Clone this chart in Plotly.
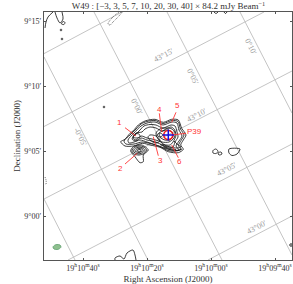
import plotly.graph_objects as go

# Map coordinates: 0..248 on both axes (map pixels)
x_tickvals = [39, 103, 167, 231]
x_ticktext = ["19<sup>h</sup>10<sup>m</sup>40<sup>s</sup>", "19<sup>h</sup>10<sup>m</sup>20<sup>s</sup>",
              "19<sup>h</sup>10<sup>m</sup>00<sup>s</sup>", "19<sup>h</sup>09<sup>m</sup>40<sup>s</sup>"]
y_tickvals = [44, 109, 174, 239]
y_ticktext = ["9°00′", "9°05′", "9°10′", "9°15′"]

grid_lines = [
    ([0, 78], [206.4, 248]), ([0, 220], [133.5, 248]), ([0, 248], [61, 189]),
    ([24, 248], [0, 116]), ([164, 248], [0, 44]),
    ([0, 31], [61, 0]), ([0, 104], [203, 0]), ([50, 178], [248, 0]),
    ([123, 248], [248, 5]), ([196, 248], [248, 147]),
]
grid_labels = [
    ("43°15′", 119, 205, -27), ("43°10′", 152, 145, -27), ("43°05′", 182, 91, -27), ("43°00′", 212, 33, -27),
    ("0°10′", 207, 214, 63), ("0°05′", 149, 184, 63), ("0°00′", 93, 154, 63), ("-0°05′", 37, 123, 63),
]

outer = [(76.7,118.3),(81,120.7),(86,126.7),(89.3,129.3),(94.3,135),(101,139),(111,140.7),(119.3,137.7),
         (127.7,140.7),(134.3,140),(137.7,131.7),(142,125),(139.3,120),(136.7,115),(139.3,110.7),(134.3,107.3),
         (124.3,108.3),(116,112.7),(106,115),(98.7,116.7),(89.3,114),(81,114),(76.7,118.3)]
level1b = [(80,119),(86,125),(92,131),(97,136),(103,138.5),(111,139.5),(119,136.5),(128,139.5),(134,138.5),(136.5,131),
           (140,125),(137,119.5),(134.5,114.5),(137,110.5),(130,108.8),(124,109.5),(116,113.5),(106,116.5),(98,118),
           (90,116),(82,116),(80,119)]
level2 = [(84,120),(90,127),(97,134),(103,137),(111,138),(119,135),(128,138),(133,137),(135,130),(138,124),
          (135,119),(132,114),(135,110),(128,110),(120,112),(112,115),(103,118),(96,120),(90,118),(85,117),(84,120)]
level3 = [(88,121),(92,126),(96,130),(100,134),(106,135.5),(112,135),(119,132),(127,135),(131,134),(133,128),
          (134,123),(131,118),(129,113),(122,113.5),(114,117),(108,119),(103,120),(97,122),(92,119),(88,121)]
level4 = [(89,122),(92,127),(98,128),(101,131),(106,133),(112,132),(118,129),(122,131),(127,133),(130,131),(132,125),
          (129,118),(126,115),(120,115.5),(117,118),(108,121),(103,122),(97,124),(92,120),(89,122)]
ring_p39a = [(112,127),(116,131),(122,132),(128,131),(131,127),(130,122),(125,118),(118,118),(114,121),(112,127)]
ring_p39b = [(115,127),(119,129),(124,130),(128,128),(129,124),(126,120),(121,120),(117,122),(115,127)]
ring_4 = [(113,125),(116,127),(119,125),(116,123),(113,125)]
lobe_3 = [(104,123),(106,125),(112,124),(116,119),(112,117),(106,120),(104,123)]
finger_a = [(118,116),(126,113),(133,112),(137,113),(133,116),(130,119)]
finger_b = [(120,113),(126,110.5),(133,109.5),(138,111)]
finger_c = [(116,115.5),(124,112),(132,110.5)]
ring_1 = [(89,123),(91,126),(95,126),(96,123),(92,122),(89,123)]
loop_2 = [(89.3,113.3),(86.7,109),(91,103.3),(96,97.3),(99.3,98.3),(99.3,105),(104.3,110),(97.7,115),(89.3,113.3)]
ring_2a = [(88,109),(90,112.5),(95,114),(100,113),(102.5,110),(100,106.5),(95,105),(90,106),(88,109)]
ring_2b = [(89.5,109),(91,111.5),(95,112.8),(99,112),(101,110),(99,107.5),(95,106.2),(91,107),(89.5,109)]
ring_2c = [(91,109),(92.5,110.8),(95,111.5),(98,111),(99.5,110),(98,108.5),(95,107.5),(92.5,108),(91,109)]
ring_2d = [(93,109.5),(95,110.5),(97,110),(96.5,108.5),(94.5,108.4),(93,109.5)]

corner_a = [(1,232),(2,238),(4,243),(9,248)]
corner_b = [(11,248),(13,242),(16,237),(19,241),(18,248)]
corner_c = [(17.5,236),(19,238.5),(21,237.5),(20,235.5),(17.5,236)]
blob_a = [(16,230),(17,231),(18,230),(17,229),(16,230)]
blob_b = [(17,221),(18,222),(19,221),(18,220),(17,221)]
blob_c = [(59,153),(60,154),(61,153),(60,152),(59,153)]
bottom_c = [(71,0),(71,2),(76,4),(80,1),(83,7),(89,10),(91,5),(92,0)]
right_a = [(169,109.5),(172,111),(174,108.5),(172,106.5),(169,107),(169,109.5)]
right_b = [(174,107),(177,108),(178,106),(175,105),(174,107)]
right_c = [(185,111),(196,111),(193,106),(188,104.5),(185,107),(185,111)]
right_d = [(246,14),(248,14),(248,16),(246,16),(246,14)]
top_a = [(170,248),(172,246.5),(174,248)]
top_b = [(180,248),(181.5,246.5),(183,248)]
solid_contours = [outer, level1b, level2, level3, level4, ring_p39a, ring_p39b, ring_4, lobe_3, finger_a, finger_b,
                  finger_c, ring_1, loop_2, ring_2a, ring_2b, ring_2c, ring_2d, corner_a, corner_b, corner_c,
                  blob_a, blob_b, blob_c, bottom_c, right_a, right_b, right_c, right_d, top_a, top_b]

dotted_a = [(64,236),(68,242),(74,247),(78,248),(74,243),(69,238),(66,235),(64,236)]
dotted_b = [(1,83),(2,80),(2,76),(1,76)]
dotted_contours = [dotted_a, dotted_b]

beam_x = [9,11,13,16,17,15,13,10,9]
beam_y = [13,15,15.5,15,13,11,10.5,11,13]

p39_x, p39_y = 124.3, 125

leaders = [
    ([81, 92], [132.3, 124]), ([81, 93.3], [96, 106.7]), ([114.3, 109.3], [104.3, 123.3]),
    ([115.3, 117.7], [146.7, 128.3]), ([132, 127.7], [147.7, 137.7]), ([134.3, 127.7], [102.3, 115]),
    ([142, 127.7], [126.7, 125]),
]
leader_labels = [("1", 75, 137.7), ("2", 76.7, 91.7), ("3", 116, 100), ("4", 115.3, 150.7),
                 ("5", 133.7, 155), ("6", 135.3, 98.3), ("P39", 150.5, 128.3)]

SERIF = "Liberation Serif, Times New Roman, serif"
RED = "#ff3333"
fig = go.Figure()

for gx, gy in grid_lines:
    fig.add_trace(go.Scatter(x=gx, y=gy, mode="lines", line=dict(color="#bdbdbd", width=0.9), hoverinfo="skip"))

for c in solid_contours:
    fig.add_trace(go.Scatter(x=[p[0] for p in c], y=[p[1] for p in c], mode="lines",
                             line=dict(color="#1a1a1a", width=0.85, shape="spline", smoothing=0.8), hoverinfo="skip"))
for c in dotted_contours:
    fig.add_trace(go.Scatter(x=[p[0] for p in c], y=[p[1] for p in c], mode="lines",
                             line=dict(color="#333333", width=0.7, dash="1px,1px", shape="spline"), hoverinfo="skip"))

fig.add_trace(go.Scatter(x=beam_x, y=beam_y, mode="lines", fill="toself", fillcolor="#8fc08f",
                         line=dict(color="#5f9f6f", width=0.8, shape="spline"), hoverinfo="skip"))

for lx, ly in leaders:
    fig.add_trace(go.Scatter(x=lx, y=ly, mode="lines", line=dict(color=RED, width=0.9), hoverinfo="skip"))

fig.add_trace(go.Scatter(x=[p39_x], y=[p39_y], mode="markers",
                         marker=dict(symbol="circle", size=9, color="rgba(0,0,0,0)", line=dict(color="#f01818", width=1.6)),
                         hoverinfo="skip"))
fig.add_trace(go.Scatter(x=[p39_x], y=[p39_y], mode="markers",
                         marker=dict(symbol="cross-thin", size=8, line=dict(color="#1010e0", width=1.5)),
                         hoverinfo="skip"))

annotations = []
for text, x, y, angle in grid_labels:
    annotations.append(dict(x=x, y=y, text=text, textangle=angle, showarrow=False,
                            font=dict(family=SERIF, size=8, color="#999999")))
for text, x, y in leader_labels:
    annotations.append(dict(x=x, y=y, text=text, showarrow=False,
                            font=dict(family="Liberation Sans, Arial, sans-serif", size=8, color=RED)))

axis_common = dict(range=[0, 248], showgrid=False, zeroline=False, showline=True, mirror="ticks",
                   linecolor="#555555", linewidth=1.2, ticks="inside", ticklen=2, tickwidth=0.6,
                   tickcolor="#555555", tickfont=dict(family=SERIF, size=8, color="#333333"))

fig.update_layout(
    width=293, height=284, showlegend=False, paper_bgcolor="white", plot_bgcolor="white",
    margin=dict(l=44, r=1, t=12, b=24),
    title=dict(text="W49 : [−3, 3, 5, 7, 10, 20, 30, 40] × 84.2 mJy Beam<sup>−1</sup>",
               x=0.575, xanchor="center", y=0.978, yanchor="middle",
               font=dict(family=SERIF, size=9, color="#333333")),
    xaxis=dict(axis_common, tickmode="array", tickvals=x_tickvals, ticktext=x_ticktext,
               title=dict(text="Right Ascension (J2000)", standoff=3, font=dict(family=SERIF, size=9, color="#333333"))),
    yaxis=dict(axis_common, tickmode="array", tickvals=y_tickvals, ticktext=y_ticktext,
               title=dict(text="Declination (J2000)", standoff=2, font=dict(family=SERIF, size=9, color="#333333"))),
    annotations=annotations,
)
fig.write_html("out.html", config={"displayModeBar": False},
               post_script="document.body.style.margin='0';document.body.style.overflow='hidden';")
